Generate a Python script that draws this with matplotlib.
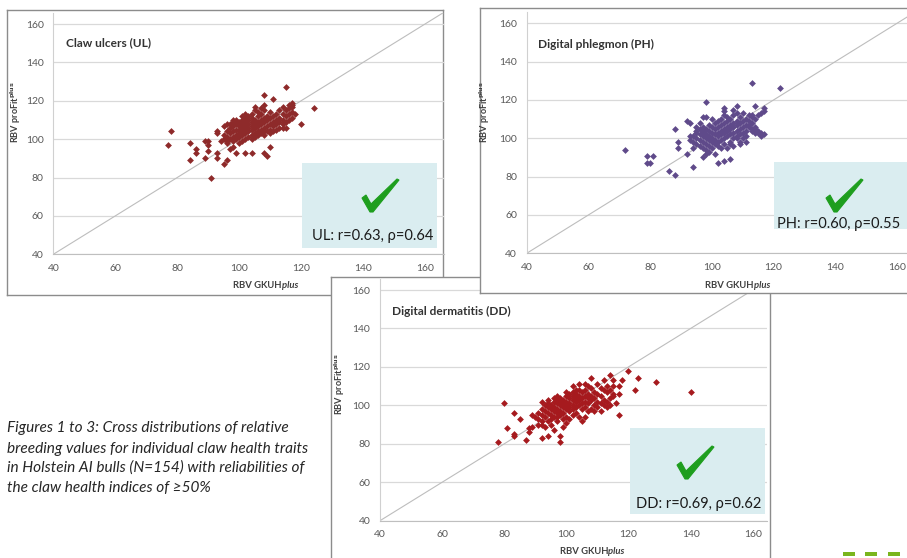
import numpy as np
import matplotlib
matplotlib.use('Agg')
import matplotlib.pyplot as plt
from matplotlib.patches import Rectangle, Polygon

plt.rcParams['font.family'] = ['Lato', 'DejaVu Sans']

# ---- data ----
ticks = [40, 60, 80, 100, 120, 140, 160]

ul_pts = [(77, 97), (78, 104), (84, 98), (84, 89), (86, 95), (86, 93), (89, 99), (90, 99),
          (89, 90), (90, 97), (90, 94), (91, 80), (93, 104), (93, 103), (93, 93), (93, 90),
          (95, 87), (96, 89), (95, 107), (96, 108), (98, 110), (108, 123), (115, 127), (111, 121),
          (108, 118), (117, 118), (117, 119), (116, 118), (118, 113), (120, 108), (124, 116),
          (102, 93), (104, 93), (108, 93), (109, 91), (110, 96), (114, 117), (114, 106), (115, 106),
          (99, 93), (98, 96), (97, 95), (96, 99), (94, 99), (102, 113), (105, 115), (105, 117),
          (107, 116),
          (95, 100), (95, 102), (96, 101), (96, 104), (96, 98), (97, 100), (97, 103), (97, 106),
          (97, 108), (98, 99), (98, 101), (98, 104), (98, 107), (98, 109), (99, 100), (99, 102),
          (99, 105), (99, 108), (99, 110), (100, 98), (100, 101), (100, 103), (100, 105), (100, 107),
          (100, 109), (101, 99), (101, 102), (101, 104), (101, 106), (101, 108), (101, 110), (101, 112),
          (102, 100), (102, 103), (102, 105), (102, 107), (102, 109), (102, 111), (103, 101), (103, 104),
          (103, 106), (103, 108), (103, 110), (103, 112), (104, 100), (104, 102), (104, 105), (104, 107),
          (104, 109), (104, 111), (104, 113), (105, 101), (105, 103), (105, 106), (105, 108), (105, 110),
          (106, 102), (106, 104), (106, 107), (106, 109), (106, 112), (106, 114), (107, 103), (107, 105),
          (107, 108), (107, 110), (107, 113), (108, 102), (108, 104), (108, 106), (108, 109), (108, 111),
          (108, 115), (109, 104), (109, 107), (109, 110), (109, 112), (110, 103), (110, 105), (110, 108),
          (110, 111), (110, 114), (111, 104), (111, 107), (111, 109), (111, 112), (112, 105), (112, 108),
          (112, 110), (112, 113), (113, 106), (113, 109), (113, 111), (113, 115), (114, 108), (114, 110),
          (114, 113), (115, 109), (115, 112), (115, 115), (116, 110), (116, 113), (116, 116), (117, 111),
          (117, 114), (117, 117)]

ph_pts = [(72, 94), (79, 91), (81, 91), (79, 87), (80, 87), (86, 83), (88, 81), (88, 105),
          (89, 98), (89, 95), (92, 109), (93, 108), (92, 92), (94, 85), (94, 95), (97, 90),
          (98, 119), (97, 111), (98, 111), (102, 87), (104, 88), (106, 89), (113, 129), (122, 126),
          (114, 117), (117, 116), (117, 114), (116, 102), (117, 102), (115, 104), (113, 105), (108, 117),
          (107, 115), (104, 116), (104, 114), (100, 110), (109, 97), (107, 96), (106, 97), (103, 95),
          (102, 96), (97, 104), (95, 106), (95, 104), (93, 101), (93, 99), (112, 107), (114, 105),
          (116, 103), (113, 112), (110, 113), (108, 100), (111, 98), (96, 108), (99, 93), (101, 92),
          (105, 95), (98, 92),
          (94, 98), (94, 101), (95, 97), (95, 100), (95, 103), (96, 96), (96, 99), (96, 102),
          (96, 105), (97, 95), (97, 98), (97, 101), (97, 103), (97, 106), (98, 94), (98, 97),
          (98, 100), (98, 102), (98, 105), (99, 96), (99, 99), (99, 101), (99, 104), (99, 107),
          (100, 95), (100, 98), (100, 100), (100, 103), (100, 106), (101, 97), (101, 99), (101, 102),
          (101, 105), (101, 108), (102, 98), (102, 101), (102, 103), (102, 106), (102, 109), (103, 99),
          (103, 102), (103, 104), (103, 107), (103, 110), (104, 97), (104, 100), (104, 103), (104, 105),
          (104, 108), (104, 112), (105, 101), (105, 104), (105, 106), (105, 109), (105, 111), (106, 98),
          (106, 102), (106, 105), (106, 107), (106, 110), (107, 100), (107, 103), (107, 106), (107, 108),
          (107, 112), (108, 101), (108, 104), (108, 107), (108, 109), (108, 113), (109, 98), (109, 102),
          (109, 105), (109, 108), (109, 111), (110, 100), (110, 103), (110, 106), (110, 109), (111, 101),
          (111, 104), (111, 107), (111, 110), (112, 106), (112, 109), (112, 112), (113, 104), (113, 108),
          (113, 111), (114, 103), (114, 106), (114, 110), (115, 112), (115, 103), (116, 101), (116, 113)]

dd_pts = [(78, 81), (80, 101), (81, 88), (83, 96), (83, 85), (83, 84), (85, 93), (87, 82),
          (88, 86), (88, 88), (89, 89), (89, 95), (92, 83), (93, 89), (92, 92), (94, 84),
          (96, 87), (98, 84), (98, 81), (99, 89), (120, 118), (123, 114), (129, 112), (140, 107),
          (122, 108), (118, 113), (114, 116), (117, 95), (115, 105), (116, 101), (117, 106), (117, 110),
          (105, 92), (104, 94), (110, 111), (112, 113), (108, 114), (106, 111), (103, 108), (100, 107),
          (97, 105), (96, 104), (94, 103), (92, 102), (100, 91), (102, 95), (107, 97), (109, 97),
          (111, 97), (113, 99), (95, 90), (97, 94), (99, 93), (101, 93), (91, 90), (106, 94),
          (102, 110), (114, 100),
          (90, 94), (91, 93), (91, 96), (92, 95), (92, 98), (92, 90), (93, 94), (93, 97),
          (93, 100), (94, 92), (94, 96), (94, 99), (94, 101), (95, 93), (95, 95), (95, 98),
          (95, 100), (96, 94), (96, 97), (96, 99), (96, 102), (97, 92), (97, 96), (97, 98),
          (97, 101), (97, 103), (98, 95), (98, 97), (98, 100), (98, 102), (98, 104), (99, 96),
          (99, 99), (99, 101), (99, 103), (100, 94), (100, 98), (100, 100), (100, 102), (100, 105),
          (101, 97), (101, 99), (101, 101), (101, 104), (101, 106), (102, 98), (102, 100), (102, 103),
          (102, 105), (102, 107), (103, 96), (103, 99), (103, 102), (103, 104), (103, 106), (104, 100),
          (104, 103), (104, 105), (104, 108), (104, 111), (105, 98), (105, 101), (105, 104), (105, 107),
          (106, 99), (106, 102), (106, 105), (106, 108), (107, 101), (107, 104), (107, 106), (107, 110),
          (108, 98), (108, 103), (108, 105), (108, 109), (109, 100), (109, 104), (109, 107), (110, 99),
          (110, 102), (110, 106), (111, 101), (111, 105), (111, 109), (112, 100), (112, 103), (112, 108),
          (113, 102), (113, 107), (113, 110), (114, 104), (114, 108), (115, 106), (115, 110), (115, 113)]

titles = ['Claw ulcers (UL)', 'Digital phlegmon (PH)', 'Digital dermatitis (DD)']
stats = ['UL: r=0.63, \u03c1=0.64', 'PH: r=0.60, \u03c1=0.55', 'DD: r=0.69, \u03c1=0.62']
colors = ['#8E2A2A', '#5F4A8A', '#A61A1E']
caption = ['Figures 1 to 3: Cross distributions of relative',
           'breeding values for individual claw health traits',
           'in Holstein AI bulls (N=154) with reliabilities of',
           'the claw health indices of \u226550%']

W, H = 907, 558
fig = plt.figure(figsize=(W / 100, H / 100), dpi=100)


def fr(x0, y0, x1, y1):
    # pixel box (top-left origin) -> figure fraction [l, b, w, h]
    return [x0 / W, 1 - y1 / H, (x1 - x0) / W, (y1 - y0) / H]


def fx(x, y):
    return x / W, 1 - y / H


# check mark outline, pixel offsets from its bottom point
check_shape = [(-9, -14), (-5, -17), (0, -8), (26, -33), (28, -32), (2, 0), (-1, 0)]

panels = [
    dict(frame=(7, 10, 443, 295), ax=(53.3, 12.5, 443.6, 254.3), xmax=166,
         title=(66, 43), ylab=(16, 112), xlab=(265, 286),
         box=(302, 163, 437, 248), check=(371, 212), stat=(372.5, 236), z=0),
    dict(frame=(480, 8, 925, 293), ax=(526.7, 11.8, 915.5, 253.3), xmax=166,
         title=(538, 44), ylab=(485, 112), xlab=(737, 286),
         box=(774, 162, 910, 229), check=(835, 212), stat=(839, 224), z=20),
    dict(frame=(331, 277, 770, 575), ax=(380, 278.5, 766.7, 520.7), xmax=164.5,
         title=(392, 311), ylab=(340, 384), xlab=(592, 551),
         box=(630, 428, 765, 514), check=(686, 479), stat=(699, 504), z=10),
]
data = [ul_pts, ph_pts, dd_pts]

for i, p in enumerate(panels):
    z = p['z']
    # frame
    fa = fig.add_axes(fr(*p['frame']), zorder=z + 1)
    fa.set_xticks([])
    fa.set_yticks([])
    for s in fa.spines.values():
        s.set_color('#8C8C8C')
        s.set_linewidth(1)
    fa.set_facecolor('white')

    ax = fig.add_axes(fr(*p['ax']), zorder=z + 2)
    ax.patch.set_alpha(0)
    ax.set_xlim(40, p['xmax'])
    ax.set_ylim(40, 166)
    ax.set_xticks(ticks)
    ax.set_yticks(ticks)
    ax.tick_params(length=0, labelsize=7.5, labelcolor='#595959', pad=7)
    ax.yaxis.grid(True, color='#D9D9D9', lw=0.9)
    ax.set_axisbelow(True)
    for s in ['top', 'right']:
        ax.spines[s].set_visible(False)
    ax.spines['left'].set_color('#D0D0D0')
    ax.spines['bottom'].set_color('#BFBFBF')
    ax.plot([40, 175], [40, 175], color='#BDBDBD', lw=0.8, zorder=1)
    pts = np.array(data[i])
    ax.scatter(pts[:, 0], pts[:, 1], marker='D', s=12, color=colors[i],
               linewidths=0, zorder=3, clip_on=False)

    tx, ty = fx(*p['title'])
    fig.text(tx, ty, titles[i], fontsize=8.6, fontweight='bold', color='#333333',
             va='center', ha='left', zorder=z + 3)
    lx, ly = fx(*p['ylab'])
    fig.text(lx, ly, r'RBV proFit$^{\bf plus}$', fontsize=6.6, fontweight='bold',
             color='#404040', rotation=90, va='center', ha='center', zorder=z + 3)
    xx, xy = fx(*p['xlab'])
    t1 = fig.text(xx - 32 / W, xy, 'RBV GKUH', fontsize=6.8, fontweight='bold',
                  color='#404040', va='center', ha='left', zorder=z + 3)
    fig.add_artist(plt.Annotation('plus', xy=(1, 0), xycoords=t1, va='bottom', ha='left',
                                  fontsize=6.8, fontweight='bold', style='italic',
                                  color='#404040', zorder=z + 3))

    bx0, by0, bx1, by1 = p['box']
    fig.add_artist(Rectangle((bx0 / W, 1 - by1 / H), (bx1 - bx0) / W, (by1 - by0) / H,
                             facecolor='#DAEDF0', edgecolor='none', zorder=z + 4))
    cx, cy = p['check']
    poly = [fx(cx + dx, cy + dy) for dx, dy in check_shape]
    fig.add_artist(Polygon(poly, closed=True, facecolor='#1E9E1E', edgecolor='#1E9E1E',
                           lw=0.8, zorder=z + 5))
    sx, sy = fx(*p['stat'])
    fig.text(sx, sy, stats[i], fontsize=10.5, color='#1A1A1A', ha='center', va='center',
             zorder=z + 5)

for k, line in enumerate(caption):
    cx, cy = fx(7, [428, 449, 468, 488][k])
    fig.text(cx, cy, line, fontsize=11.1, style='italic', color='#262626',
             ha='left', va='center', zorder=40)

for x0 in [843, 865, 888]:
    fig.add_artist(Rectangle((x0 / W, 1 - 556 / H), 12 / W, 4 / H,
                             facecolor='#7AB51D', edgecolor='none', zorder=40))

fig.savefig('out.png', dpi=100)
